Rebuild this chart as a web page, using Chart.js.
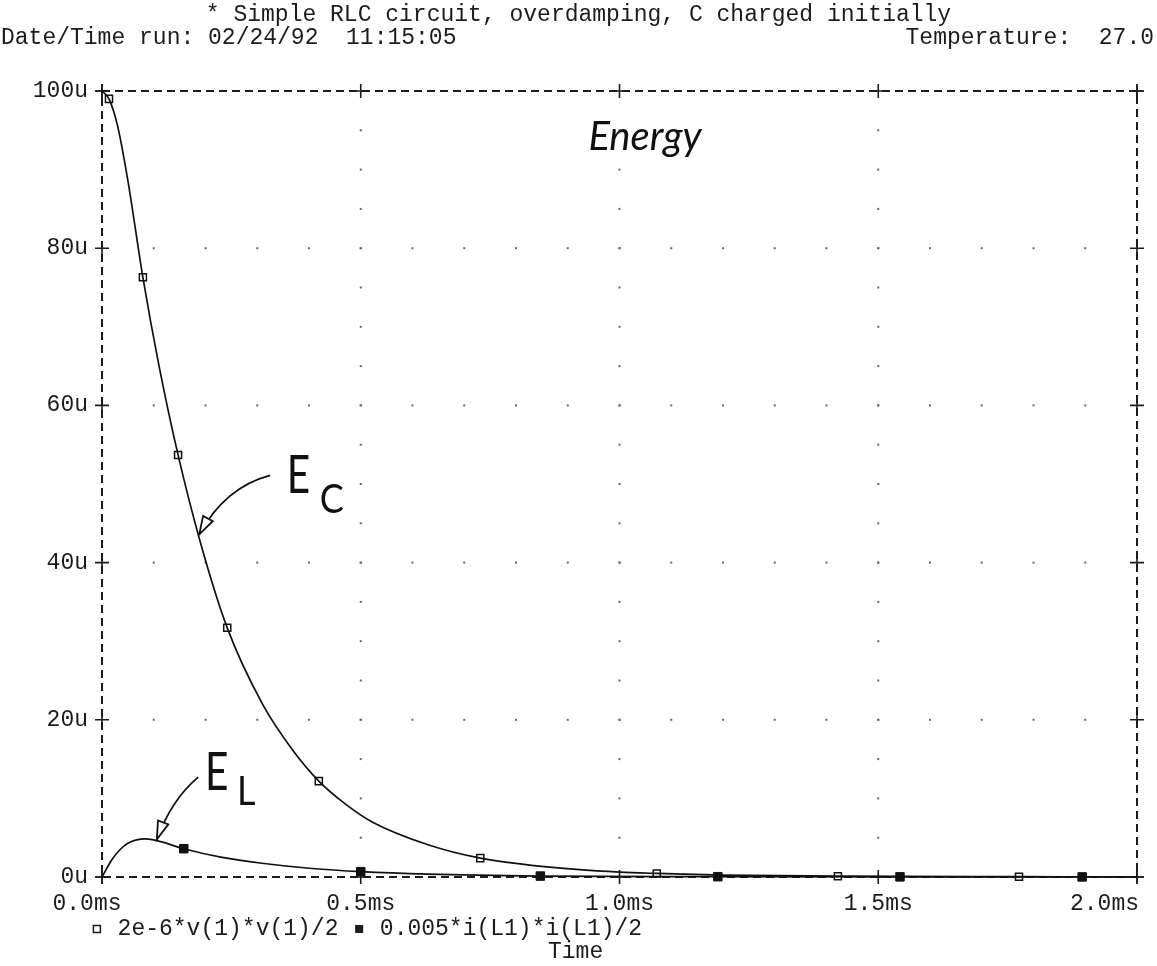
<!DOCTYPE html>
<html>
<head>
<meta charset="utf-8">
<title>Simple RLC circuit - Energy</title>
<script src="https://cdn.jsdelivr.net/npm/chart.js@4.4.0/dist/chart.umd.min.js"></script>
<style>
    html, body { margin: 0; padding: 0; background: #fff; }
    #marco { position: relative; width: 1157px; height: 966px; }
</style>
</head>
<body>
<div id="marco"><canvas id="graficoPrincipal"></canvas></div>
<script>
"use strict";

// textos de cabecera
const titulo = "* Simple RLC circuit, overdamping, C charged initially";
const fechaTexto = "Date/Time run: 02/24/92  11:15:05";
const tempTexto = "Temperature:  27.0";

// ejes
const xTicks = [0, 0.5, 1.0, 1.5, 2.0];
const xTickLabels = ["0.0ms", "0.5ms", "1.0ms", "1.5ms", "2.0ms"];
const yTicks = [0, 20, 40, 60, 80, 100];
const yTickLabels = ["0u", "20u", "40u", "60u", "80u", "100u"];
const xTitulo = "Time";

// leyenda
const serieNombres = ["2e-6*v(1)*v(1)/2", "0.005*i(L1)*i(L1)/2"];

// energia en el condensador (t en ms, E en uJ)
const tC = [0, 0.0135, 0.03, 0.05, 0.079, 0.11, 0.147, 0.19, 0.242, 0.311, 0.369, 0.419, 0.47, 0.522, 0.63, 0.731, 0.85, 1.0, 1.072, 1.2, 1.422, 1.772, 2.0];
const eC = [100, 99.0, 95.6, 88.6, 76.3, 65.1, 53.7, 42.6, 31.7, 21.9, 16.1, 12.2, 9.3, 7.0, 4.1, 2.4, 1.35, 0.62, 0.45, 0.25, 0.1, 0.04, 0.02];
const tCMarca = [0.0135, 0.079, 0.147, 0.242, 0.419, 0.731, 1.072, 1.422, 1.772];
const eCMarca = [99.0, 76.3, 53.7, 31.7, 12.2, 2.4, 0.45, 0.1, 0.04];

// energia en la bobina
const tL = [0, 0.019, 0.035, 0.05, 0.065, 0.085, 0.108, 0.158, 0.232, 0.309, 0.406, 0.5, 0.63, 0.847, 1.19, 1.542, 1.894, 2.0];
const eL = [0, 2.2, 3.5, 4.3, 4.7, 4.85, 4.6, 3.6, 2.5, 1.75, 1.08, 0.68, 0.36, 0.12, 0.04, 0.02, 0.01, 0.01];
const tLMarca = [0.158, 0.5, 0.847, 1.19, 1.542, 1.894];
const eLMarca = [3.6, 0.68, 0.12, 0.04, 0.02, 0.01];

// anotaciones a mano (coordenadas en unidades de datos)
const notas = {
    energia: { texto: "Energy", en: [0.94, 92.5] },
    ec: { letra: "E", sub: "C", en: [0.357, 48.9], subEn: [0.421, 46.3], cola: [0.325, 51.1], ctrl: [0.238, 49.6], punta: [0.188, 43.6] },
    el: { letra: "E", sub: "L", en: [0.199, 11.1], subEn: [0.261, 9.2], cola: [0.186, 12.7], ctrl: [0.135, 9.9], punta: [0.106, 4.8] }
};

const FUENTE = "23px 'Liberation Mono', 'DejaVu Sans Mono', monospace";
const TINTA = "#1c1c1c";
const MANO = "Lato, 'DejaVu Sans', sans-serif";

function puntos(xs, ys) {
    return xs.map((t, i) => ({ x: t, y: ys[i] }));
}

function cruz(ctx, px, py, r) {
    ctx.beginPath();
    ctx.moveTo(px - r, py);
    ctx.lineTo(px + r, py);
    ctx.moveTo(px, py - r);
    ctx.lineTo(px, py + r);
    ctx.stroke();
}

function flecha(ctx, x, y, n) {
    const ax = x.getPixelForValue(n.cola[0]), ay = y.getPixelForValue(n.cola[1]);
    const cx = x.getPixelForValue(n.ctrl[0]), cy = y.getPixelForValue(n.ctrl[1]);
    const px = x.getPixelForValue(n.punta[0]), py = y.getPixelForValue(n.punta[1]);
    ctx.beginPath();
    ctx.moveTo(ax, ay);
    ctx.quadraticCurveTo(cx, cy, px, py);
    ctx.stroke();
    const ang = Math.atan2(py - cy, px - cx);
    const largo = 18, ancho = 5.5;
    const bx = px - Math.cos(ang) * largo, by = py - Math.sin(ang) * largo;
    const nx = -Math.sin(ang) * ancho, ny = Math.cos(ang) * ancho;
    ctx.beginPath();
    ctx.moveTo(px, py);
    ctx.lineTo(bx + nx, by + ny);
    ctx.lineTo(bx - nx, by - ny);
    ctx.closePath();
    ctx.fillStyle = "#fff";
    ctx.fill();
    ctx.stroke();
}

// letra de la anotacion, algo estrecha como la escrita a mano
function letraMano(ctx, texto, px, py, tam, escala) {
    ctx.save();
    ctx.translate(px, py);
    ctx.scale(escala, 1);
    ctx.font = tam + "px " + MANO;
    ctx.fillText(texto, 0, 0);
    ctx.restore();
}

const marcoPlugin = {
    id: "marcoPlugin",
    beforeDatasetsDraw(chart) {
        const { ctx, chartArea: a, scales: { x, y } } = chart;
        ctx.save();

        // puntos de la reticula
        ctx.fillStyle = "#666";
        yTicks.forEach(v => {
            if (v === yTicks[0] || v === yTicks[yTicks.length - 1]) return;
            const py = y.getPixelForValue(v);
            for (let k = 1; k < 20; k++) {
                const px = x.getPixelForValue(k * 0.1);
                ctx.fillRect(px - 1, py - 1, 2, 2);
            }
        });
        xTicks.forEach(v => {
            if (v === xTicks[0] || v === xTicks[xTicks.length - 1]) return;
            const px = x.getPixelForValue(v);
            for (let k = 1; k < 20; k++) {
                const py = y.getPixelForValue(k * 5);
                ctx.fillRect(px - 1, py - 1, 2, 2);
            }
        });

        // marco discontinuo
        ctx.strokeStyle = TINTA;
        ctx.lineWidth = 2;
        ctx.setLineDash([8, 5]);
        ctx.strokeRect(a.left, a.top, a.width, a.height);
        ctx.setLineDash([]);

        // cruces en las marcas
        ctx.lineWidth = 1.6;
        yTicks.forEach(v => {
            const py = y.getPixelForValue(v);
            cruz(ctx, a.left, py, 7);
            cruz(ctx, a.right, py, 7);
        });
        xTicks.forEach(v => {
            const px = x.getPixelForValue(v);
            cruz(ctx, px, a.top, 7);
            cruz(ctx, px, a.bottom, 7);
        });

        ctx.restore();
    },
    afterDraw(chart) {
        const { ctx, chartArea: a, scales: { x, y }, width } = chart;
        ctx.save();
        ctx.font = FUENTE;
        ctx.fillStyle = TINTA;

        // cabecera
        ctx.textBaseline = "alphabetic";
        ctx.textAlign = "center";
        ctx.fillText(titulo, width / 2, 21);
        ctx.textAlign = "left";
        ctx.fillText(fechaTexto, 1, 44);
        ctx.textAlign = "right";
        ctx.fillText(tempTexto, width - 3, 44);

        // etiquetas del eje x
        ctx.textBaseline = "middle";
        xTicks.forEach((v, i) => {
            const px = x.getPixelForValue(v);
            if (i === 0) {
                ctx.textAlign = "center";
                ctx.fillText(xTickLabels[i], px - 15, a.bottom + 27);
            } else if (i === xTicks.length - 1) {
                ctx.textAlign = "right";
                ctx.fillText(xTickLabels[i], px + 2, a.bottom + 27);
            } else {
                ctx.textAlign = "center";
                ctx.fillText(xTickLabels[i], px, a.bottom + 27);
            }
        });

        // leyenda en celdas monoespaciadas
        const paso = ctx.measureText("0").width;
        const x0 = 90, yLey = a.bottom + 52;
        ctx.textAlign = "left";
        let col = 0;
        serieNombres.forEach((nombre, i) => {
            const cx = x0 + col * paso + paso / 2;
            ctx.lineWidth = 1.5;
            ctx.strokeStyle = TINTA;
            if (i === 0) {
                ctx.fillStyle = "#fff";
                ctx.fillRect(cx - 3.5, yLey - 3.5, 7, 7);
                ctx.strokeRect(cx - 3.5, yLey - 3.5, 7, 7);
            } else {
                ctx.fillStyle = TINTA;
                ctx.fillRect(cx - 4, yLey - 4, 8, 8);
            }
            ctx.fillStyle = TINTA;
            ctx.fillText(nombre, x0 + (col + 2) * paso, yLey);
            col += 2 + nombre.length + 1;
        });

        // titulo del eje x
        ctx.fillText(xTitulo, 548, a.bottom + 75);

        // anotaciones a mano
        ctx.strokeStyle = "#111";
        ctx.fillStyle = "#111";
        ctx.textBaseline = "alphabetic";
        ctx.textAlign = "left";
        ctx.font = "italic 40px " + MANO;
        ctx.fillText(notas.energia.texto, x.getPixelForValue(notas.energia.en[0]), y.getPixelForValue(notas.energia.en[1]));

        [notas.ec, notas.el].forEach(n => {
            ctx.fillStyle = "#111";
            letraMano(ctx, n.letra, x.getPixelForValue(n.en[0]), y.getPixelForValue(n.en[1]), 52, 0.78);
            letraMano(ctx, n.sub, x.getPixelForValue(n.subEn[0]), y.getPixelForValue(n.subEn[1]), 40, 0.9);
            ctx.lineWidth = 1.8;
            flecha(ctx, x, y, n);
        });

        ctx.restore();
    }
};

const lineaBase = {
    showLine: true,
    pointRadius: 0,
    pointHoverRadius: 0,
    borderColor: "#111",
    borderWidth: 1.7,
    cubicInterpolationMode: "monotone",
    clip: 4
};

const grafico = new Chart(document.getElementById("graficoPrincipal"), {
    type: "scatter",
    data: {
        datasets: [
            Object.assign({ label: serieNombres[0], data: puntos(tC, eC) }, lineaBase),
            Object.assign({ label: serieNombres[1], data: puntos(tL, eL) }, lineaBase),
            {
                label: serieNombres[0] + " marcas",
                data: puntos(tCMarca, eCMarca),
                showLine: false,
                pointStyle: "rect",
                pointRadius: 5,
                pointBorderWidth: 1.5,
                pointBackgroundColor: "#fff",
                pointBorderColor: "#111",
                clip: 6
            },
            {
                label: serieNombres[1] + " marcas",
                data: puntos(tLMarca, eLMarca),
                showLine: false,
                pointStyle: "rect",
                pointRadius: 6,
                pointBorderWidth: 1,
                pointBackgroundColor: "#111",
                pointBorderColor: "#111",
                clip: 6
            }
        ]
    },
    options: {
        responsive: true,
        maintainAspectRatio: false,
        animation: false,
        layout: { padding: { top: 91, right: 20, left: 0, bottom: 0 } },
        plugins: {
            legend: { display: false },
            tooltip: { enabled: false }
        },
        scales: {
            x: {
                type: "linear",
                min: xTicks[0],
                max: xTicks[xTicks.length - 1],
                ticks: { display: false, stepSize: 0.5 },
                grid: { display: false },
                border: { display: false },
                afterFit(scale) { scale.height = 89; }
            },
            y: {
                min: yTicks[0],
                max: yTicks[yTicks.length - 1],
                ticks: {
                    stepSize: 20,
                    padding: 14,
                    color: TINTA,
                    font: { family: "'Liberation Mono', 'DejaVu Sans Mono', monospace", size: 23 },
                    callback(value) {
                        const i = yTicks.indexOf(value);
                        return i >= 0 ? yTickLabels[i] : "";
                    }
                },
                grid: { display: false, drawTicks: false },
                border: { display: false },
                afterFit(scale) { scale.width = 102; }
            }
        }
    },
    plugins: [marcoPlugin]
});
</script>
</body>
</html>
